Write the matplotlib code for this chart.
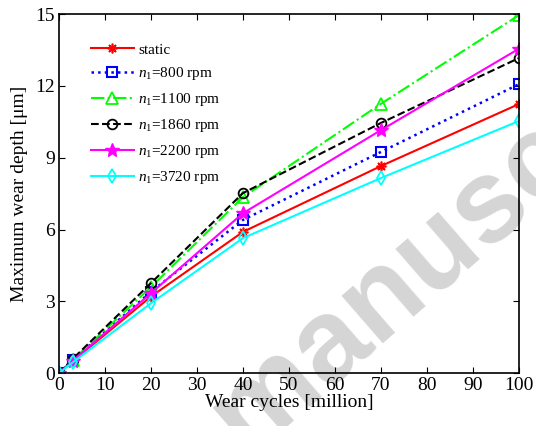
import numpy as np
import matplotlib.pyplot as plt

plt.rcParams['font.family'] = 'Liberation Serif'
plt.rcParams['mathtext.fontset'] = 'custom'
plt.rcParams['mathtext.rm'] = 'Liberation Serif'
plt.rcParams['mathtext.it'] = 'Liberation Serif:italic'

cycles = [0, 3, 20, 40, 70, 100]
static = [0, 0.5, 3.2, 5.9, 8.65, 11.24]
n800 = [0, 0.55, 3.4, 6.4, 9.24, 12.07]
n1100 = [0, 0.55, 3.6, 7.35, 11.25, 14.95]
n1860 = [0, 0.6, 3.76, 7.52, 10.45, 13.16]
n2200 = [0, 0.52, 3.34, 6.68, 10.15, 13.55]
n3720 = [0, 0.45, 2.92, 5.64, 8.15, 10.53]

labels = ['static', '$n_1$=800 rpm', '$n_1$=1100 rpm', '$n_1$=1860 rpm',
          '$n_1$=2200 rpm', '$n_1$=3720 rpm']

fig = plt.figure(figsize=(5.36, 4.26), dpi=100)
ax = fig.add_axes([0.110, 0.124, 0.858, 0.843])
ax.set_zorder(1)
ax.patch.set_visible(False)

# watermark behind the axes
fig.text(0.87, 0.475, 'manuscript', fontsize=85, color='#d5d5d5',
         rotation=41, rotation_mode='anchor', family='Liberation Sans',
         fontweight='bold', ha='center', va='center', zorder=0)

ax.plot(cycles, static, color='red', ls='-', lw=1.5, marker=(8, 2, 0),
        ms=7, mew=1.2, label=labels[0])
ax.plot(cycles, n800, color='blue', ls=':', lw=1.8, marker='s', ms=7,
        mfc='none', mew=1.5, label=labels[1])
ax.plot(cycles, n1100, color='#00ff00', ls='-.', lw=1.5, marker='^', ms=8,
        mfc='none', mew=1.3, label=labels[2])
ax.plot(cycles, n1860, color='black', ls='--', lw=1.5, marker='o', ms=7,
        mfc='none', mew=1.3, label=labels[3])
ax.plot(cycles, n2200, color='magenta', ls='-', lw=1.5, marker='*', ms=10,
        label=labels[4])
ax.plot(cycles, n3720, color='cyan', ls='-', lw=1.5, marker='d', ms=7,
        mfc='none', mew=1.3, label=labels[5])

ax.set_xlim(0, 100)
ax.set_ylim(0, 15)
ax.set_xticks(np.arange(0, 101, 10))
ax.set_yticks(np.arange(0, 16, 3))
ax.tick_params(direction='in', top=True, right=True, labelsize=14,
               length=4, width=0.8, pad=3)
for s in ax.spines.values():
    s.set_linewidth(1.2)

ax.set_xlabel('Wear cycles [million]', fontsize=14, labelpad=0)
ax.set_ylabel('Maximum wear depth [\u03bcm]', fontsize=14, labelpad=5)

ax.legend(loc='upper left', frameon=False, fontsize=11, handlelength=2.8,
          handletextpad=0.3, labelspacing=0.58, bbox_to_anchor=(0.04, 0.958))

fig.savefig('out.png', dpi=100)
